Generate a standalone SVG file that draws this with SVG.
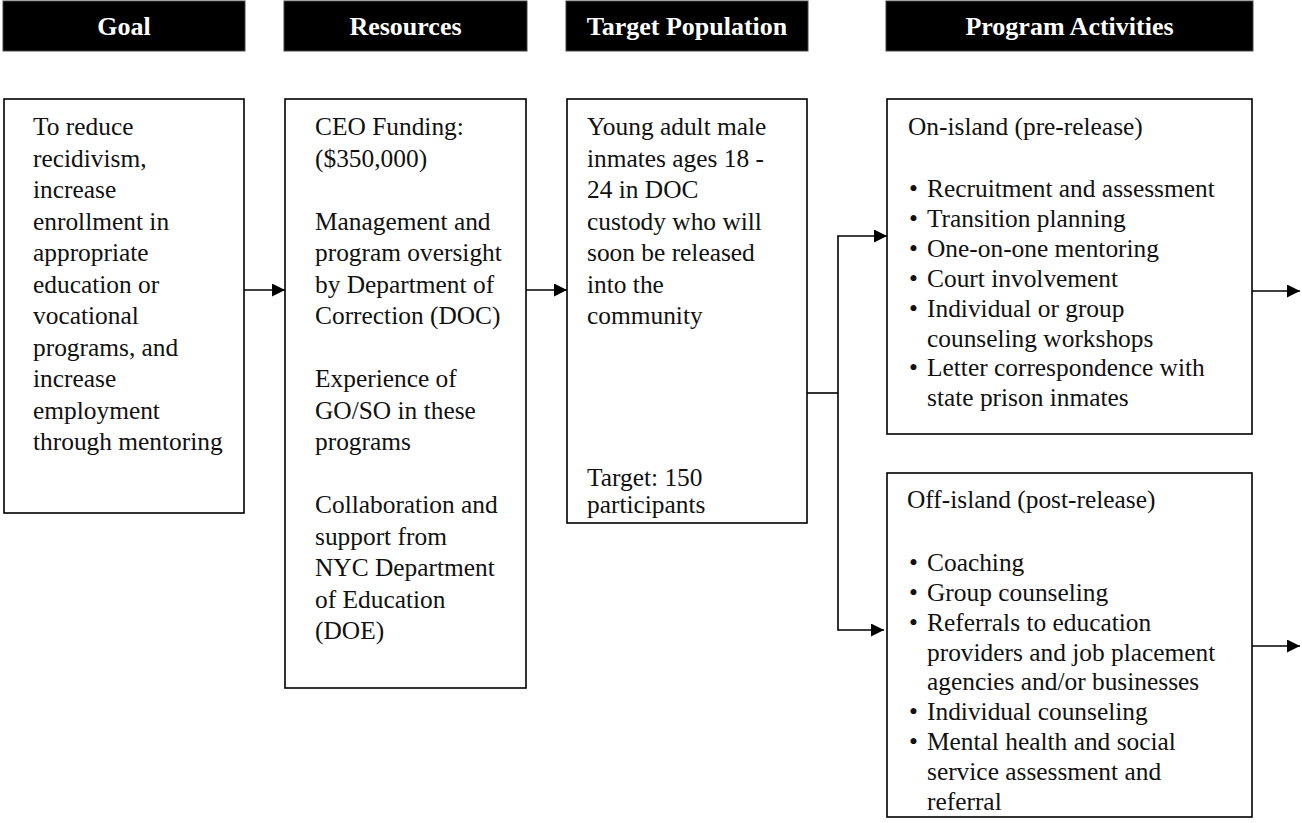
<svg xmlns="http://www.w3.org/2000/svg" width="1302" height="823" viewBox="0 0 1302 823">
<style>
.hdr{fill:#000;stroke:#444;stroke-width:1}
.ht{font-family:"Liberation Serif",serif;font-weight:bold;font-size:26px;fill:#fff;text-anchor:middle}
.box{fill:#fff;stroke:#000;stroke-width:1.6}
.t{font-family:"Liberation Serif",serif;font-size:25.4px;fill:#111}
.ln{fill:none;stroke:#000;stroke-width:1.6}
</style>
<defs>
<marker id="ah" markerUnits="userSpaceOnUse" markerWidth="14" markerHeight="14" refX="13" refY="6.5" orient="auto">
<path d="M0,0 L13,6.5 L0,13 Z" fill="#000"/>
</marker>
</defs>
<rect width="1302" height="823" fill="#fff"/>
<g id="headers">
<g id="h-goal"><rect class="hdr" x="3" y="1" width="242" height="50"/><text class="ht" x="124" y="35">Goal</text></g>
<g id="h-resources"><rect class="hdr" x="284" y="1" width="243" height="50"/><text class="ht" x="405.5" y="35">Resources</text></g>
<g id="h-target"><rect class="hdr" x="566" y="1" width="242" height="50"/><text class="ht" x="687" y="35">Target Population</text></g>
<g id="h-activities"><rect class="hdr" x="886" y="1" width="367" height="50"/><text class="ht" x="1069.5" y="35">Program Activities</text></g>
</g>
<g id="goal">
<rect class="box" x="4" y="99" width="240" height="414"/>
<text class="t">
<tspan x="33" y="135">To reduce</tspan>
<tspan x="33" y="166.5">recidivism,</tspan>
<tspan x="33" y="198">increase</tspan>
<tspan x="33" y="229.5">enrollment in</tspan>
<tspan x="33" y="261">appropriate</tspan>
<tspan x="33" y="292.5">education or</tspan>
<tspan x="33" y="324">vocational</tspan>
<tspan x="33" y="355.5">programs, and</tspan>
<tspan x="33" y="387">increase</tspan>
<tspan x="33" y="418.5">employment</tspan>
<tspan x="33" y="450">through mentoring</tspan>
</text>
</g>
<g id="resources">
<rect class="box" x="285" y="99" width="241" height="589"/>
<text class="t">
<tspan x="315" y="135">CEO Funding:</tspan>
<tspan x="315" y="166.5">($350,000)</tspan>
<tspan x="315" y="229.5">Management and</tspan>
<tspan x="315" y="261">program oversight</tspan>
<tspan x="315" y="292.5">by Department of</tspan>
<tspan x="315" y="324">Correction (DOC)</tspan>
<tspan x="315" y="387">Experience of</tspan>
<tspan x="315" y="418.5">GO/SO in these</tspan>
<tspan x="315" y="450">programs</tspan>
<tspan x="315" y="513">Collaboration and</tspan>
<tspan x="315" y="544.5">support from</tspan>
<tspan x="315" y="576">NYC Department</tspan>
<tspan x="315" y="607.5">of Education</tspan>
<tspan x="315" y="639">(DOE)</tspan>
</text>
</g>
<g id="target">
<rect class="box" x="567" y="99" width="240" height="424"/>
<text class="t">
<tspan x="587" y="135">Young adult male</tspan>
<tspan x="587" y="166.5">inmates ages 18 -</tspan>
<tspan x="587" y="198">24 in DOC</tspan>
<tspan x="587" y="229.5">custody who will</tspan>
<tspan x="587" y="261">soon be released</tspan>
<tspan x="587" y="292.5">into the</tspan>
<tspan x="587" y="324">community</tspan>
<tspan x="587" y="486">Target: 150</tspan>
<tspan x="587" y="513">participants</tspan>
</text>
</g>
<g id="on-island">
<rect class="box" x="887" y="99" width="365" height="335"/>
<text class="t">
<tspan x="908" y="135">On-island (pre-release)</tspan>
<tspan x="909" y="197">•</tspan><tspan x="927" y="197">Recruitment and assessment</tspan>
<tspan x="909" y="227">•</tspan><tspan x="927" y="227">Transition planning</tspan>
<tspan x="909" y="257">•</tspan><tspan x="927" y="257">One-on-one mentoring</tspan>
<tspan x="909" y="287">•</tspan><tspan x="927" y="287">Court involvement</tspan>
<tspan x="909" y="317">•</tspan><tspan x="927" y="317">Individual or group</tspan>
<tspan x="927" y="347">counseling workshops</tspan>
<tspan x="909" y="376">•</tspan><tspan x="927" y="376">Letter correspondence with</tspan>
<tspan x="927" y="406">state prison inmates</tspan>
</text>
</g>
<g id="off-island">
<rect class="box" x="887" y="473" width="365" height="344"/>
<text class="t">
<tspan x="907" y="508">Off-island (post-release)</tspan>
<tspan x="909" y="571">•</tspan><tspan x="927" y="571">Coaching</tspan>
<tspan x="909" y="601">•</tspan><tspan x="927" y="601">Group counseling</tspan>
<tspan x="909" y="631">•</tspan><tspan x="927" y="631">Referrals to education</tspan>
<tspan x="927" y="661">providers and job placement</tspan>
<tspan x="927" y="690">agencies and/or businesses</tspan>
<tspan x="909" y="720">•</tspan><tspan x="927" y="720">Individual counseling</tspan>
<tspan x="909" y="750">•</tspan><tspan x="927" y="750">Mental health and social</tspan>
<tspan x="927" y="780">service assessment and</tspan>
<tspan x="927" y="810">referral</tspan>
</text>
</g>
<g id="connectors">
<path class="ln" d="M244,290 H285" marker-end="url(#ah)"/>
<path class="ln" d="M526,290 H567" marker-end="url(#ah)"/>
<path class="ln" d="M807,393 H838"/>
<path class="ln" d="M838,393 V236 H887" marker-end="url(#ah)"/>
<path class="ln" d="M838,393 V630 H884" marker-end="url(#ah)"/>
<path class="ln" d="M1252,291 H1300" marker-end="url(#ah)"/>
<path class="ln" d="M1252,646 H1300" marker-end="url(#ah)"/>
</g>
</svg>
